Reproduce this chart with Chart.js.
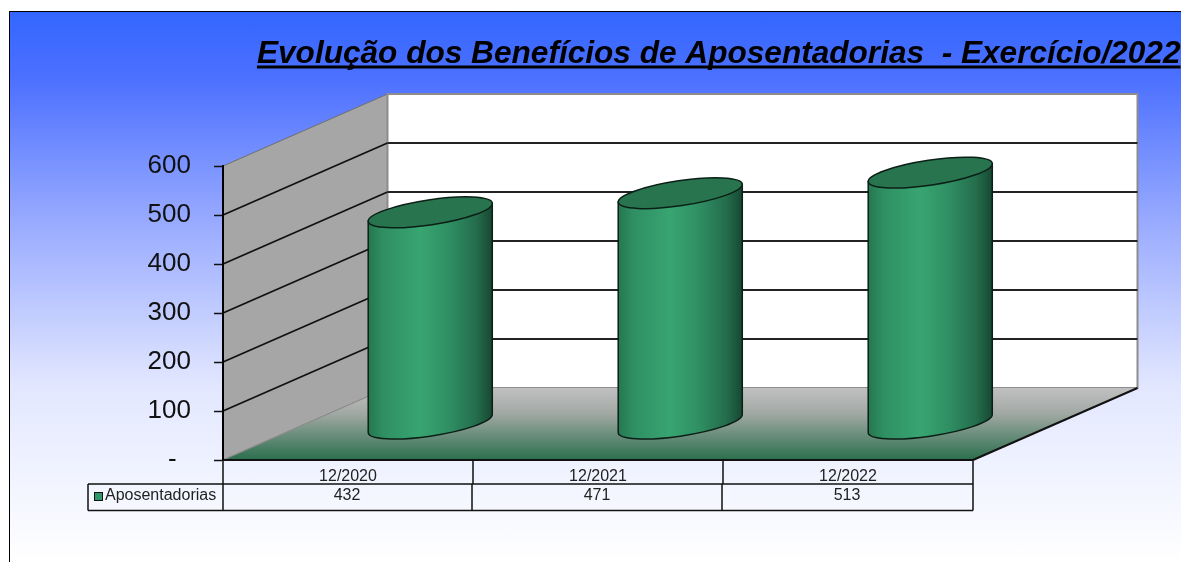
<!DOCTYPE html>
<html>
<head>
<meta charset="utf-8">
<style>
html, body { margin: 0; padding: 0; background: #fff; overflow: hidden; }
#bg {
    position: absolute; left: 9px; top: 11px; width: 1172px; height: 551px;
    box-sizing: border-box; border-left: 1px solid #000; border-top: 1px solid #000;
    background: linear-gradient(to bottom, #3366ff 0%, #4c70ff 12%, #98aaff 38%, #e2e7ff 68%, #ffffff 100%);
}
canvas { position: absolute; left: 0; top: 0; }
</style>
<script src="https://cdn.jsdelivr.net/npm/chart.js@4"></script>
</head>
<body>
<div id="bg"></div>
<canvas id="chart" width="1181" height="562"></canvas>
<script>
const titleText = 'Evolução dos Benefícios de Aposentadorias  - Exercício/2022';
const categories = ['12/2020', '12/2021', '12/2022'];
const seriesName = 'Aposentadorias';
const values = [432, 471, 513];
const yTicks = [0, 100, 200, 300, 400, 500, 600];

// depth of the fake 3d box
const depthX = 164.5, depthY = 72;
const rx = 62.7, ry = 12.5, tilt = -8.5 * Math.PI / 180;
const fontName = '"Liberation Sans", Arial, sans-serif';

// walls and floor go under the axes
const walls = {
    id: 'walls',
    afterLayout(chart) {
        // title runs to the right edge, past the plot
        chart.titleBlock.right = 1180.5;
    },
    beforeDraw(chart) {
        const c = chart.ctx, y = chart.scales.y, x = chart.scales.x;
        const l = x.left, r = x.right, b = y.getPixelForValue(0), t = y.getPixelForValue(600);
        c.save();
        // side wall
        c.fillStyle = '#a6a6a6';
        c.beginPath();
        c.moveTo(l, t); c.lineTo(l + depthX, t - depthY); c.lineTo(l + depthX, b - depthY); c.lineTo(l, b);
        c.closePath(); c.fill();
        c.strokeStyle = '#6f6f6f'; c.lineWidth = 1; c.stroke();
        // back wall
        c.fillStyle = '#fff';
        c.fillRect(l + depthX, t - depthY, r - l, b - t);
        c.strokeStyle = '#8c8c8c'; c.lineWidth = 2;
        c.strokeRect(l + depthX, t - depthY, r - l, b - t);
        // floor
        const g = c.createLinearGradient(0, b - depthY, 0, b);
        g.addColorStop(0, '#c0c0c0');
        g.addColorStop(0.35, '#a2a9a5');
        g.addColorStop(1, '#2a6f4c');
        c.fillStyle = g;
        c.beginPath();
        c.moveTo(l, b); c.lineTo(r, b); c.lineTo(r + depthX, b - depthY); c.lineTo(l + depthX, b - depthY);
        c.closePath(); c.fill();
        c.strokeStyle = '#8c8c8c'; c.lineWidth = 1;
        c.beginPath(); c.moveTo(l, b); c.lineTo(l + depthX, b - depthY); c.stroke();
        c.strokeStyle = '#111'; c.lineWidth = 2;
        c.beginPath(); c.moveTo(r, b); c.lineTo(r + depthX, b - depthY); c.stroke();
        c.beginPath(); c.moveTo(l, b); c.lineTo(r, b); c.stroke();
        // gridlines
        yTicks.slice(1, -1).forEach(v => {
            const p = y.getPixelForValue(v);
            c.strokeStyle = '#111'; c.lineWidth = 1.8;
            c.beginPath(); c.moveTo(l, p); c.lineTo(l + depthX, p - depthY); c.stroke();
            c.strokeStyle = '#222'; c.lineWidth = 2;
            c.beginPath(); c.moveTo(l + depthX, p - depthY); c.lineTo(r + depthX, p - depthY); c.stroke();
        });
        c.restore();
    }
};

// cylinders sit on the library's bar elements
const cylinders = {
    id: 'cylinders',
    afterDatasetsDraw(chart) {
        const c = chart.ctx;
        const t0 = Math.atan2(-ry * Math.sin(tilt), rx * Math.cos(tilt));
        const ex = rx * Math.cos(t0) * Math.cos(tilt) - ry * Math.sin(t0) * Math.sin(tilt);
        const ey = rx * Math.cos(t0) * Math.sin(tilt) + ry * Math.sin(t0) * Math.cos(tilt);
        chart.getDatasetMeta(0).data.forEach(bar => {
            const cx = bar.x + depthX / 2;
            const top = bar.y - depthY / 2, bot = bar.base - depthY / 2;
            const g = c.createLinearGradient(cx - ex, 0, cx + ex, 0);
            g.addColorStop(0, '#25774f');
            g.addColorStop(0.12, '#2f8f63');
            g.addColorStop(0.42, '#38a571');
            g.addColorStop(0.65, '#2f8f63');
            g.addColorStop(0.87, '#246d4c');
            g.addColorStop(1, '#174832');
            c.save();
            c.fillStyle = g; c.strokeStyle = '#0c1f16'; c.lineWidth = 1.5;
            c.beginPath();
            c.moveTo(cx - ex, top - ey);
            c.lineTo(cx - ex, bot - ey);
            c.ellipse(cx, bot, rx, ry, tilt, t0 + Math.PI, t0, true);
            c.lineTo(cx + ex, top + ey);
            c.closePath();
            c.fill(); c.stroke();
            c.fillStyle = '#27744f';
            c.beginPath();
            c.ellipse(cx, top, rx, ry, tilt, 0, Math.PI * 2);
            c.fill(); c.stroke();
            c.restore();
        });
    }
};

// data table under the axis + title underline
const dataTable = {
    id: 'dataTable',
    afterDraw(chart) {
        const c = chart.ctx, x = chart.scales.x;
        const b = x.top, row1 = b + 24, row2 = b + 50.5, w = (x.right - x.left) / categories.length;
        c.save();
        c.strokeStyle = '#111'; c.lineWidth = 1.5;
        c.beginPath();
        c.moveTo(88, row1); c.lineTo(x.right, row1);
        c.moveTo(88, row2); c.lineTo(x.right, row2);
        c.moveTo(88, row1); c.lineTo(88, row2);
        c.moveTo(x.left, b); c.lineTo(x.left, row2);
        c.moveTo(x.right, b); c.lineTo(x.right, row2);
        categories.forEach((n, i) => {
            if (i === 0) return;
            c.moveTo(x.left + w * i, b); c.lineTo(x.left + w * i, row1);
            c.moveTo(x.left + w * i - 1, row1); c.lineTo(x.left + w * i - 1, row2);
        });
        c.stroke();
        c.fillStyle = '#2e9668'; c.strokeStyle = '#111'; c.lineWidth = 1;
        c.fillRect(94.5, 492.5, 8, 8); c.strokeRect(94.5, 492.5, 8, 8);
        c.fillStyle = '#222';
        c.font = '16px ' + fontName;
        c.textBaseline = 'middle';
        c.textAlign = 'left';
        c.fillText(seriesName, 105, row1 + 12);
        c.textAlign = 'center';
        values.forEach((v, i) => c.fillText(String(v), x.getPixelForTick(i) - 1, row1 + 12));
        // underline
        c.fillStyle = '#000';
        c.font = Chart.helpers.toFont(chart.titleBlock.options.font).string;
        const tw = c.measureText(titleText).width;
        c.fillRect(1180.5 - tw, 65.5, tw, 3);
        c.restore();
    }
};

new Chart(document.getElementById('chart').getContext('2d'), {
    type: 'bar',
    data: {
        labels: categories,
        datasets: [{ label: seriesName, data: values, backgroundColor: 'rgba(0,0,0,0)', borderWidth: 0 }]
    },
    options: {
        responsive: false,
        animation: false,
        layout: { padding: { left: 0, right: 208, top: 0, bottom: 0 } },
        plugins: {
            legend: { display: false },
            tooltip: { enabled: false },
            title: {
                display: true,
                text: titleText,
                align: 'end',
                fullSize: true,
                color: '#000',
                font: { family: fontName, size: 31.6, weight: 'bold', style: 'italic', lineHeight: 1.2 },
                padding: { top: 35, bottom: 93.08 }
            }
        },
        scales: {
            x: {
                grid: { display: false, drawTicks: false },
                border: { display: false },
                ticks: { color: '#222', font: { family: fontName, size: 16 }, padding: 7, maxRotation: 0 },
                afterFit: s => { s.height = 102; }
            },
            y: {
                min: 0,
                max: 600,
                afterBuildTicks: s => { s.ticks = yTicks.map(v => ({ value: v })); },
                afterFit: s => { s.width = 223; },
                grid: { drawOnChartArea: false, tickLength: 9, tickColor: '#111', tickWidth: 1.5 },
                border: { color: '#000', width: 2 },
                ticks: {
                    color: '#111',
                    padding: 23,
                    font: { family: fontName, size: 26 },
                    callback: v => v === 0 ? '-  ' : v
                }
            }
        }
    },
    plugins: [walls, cylinders, dataTable]
});
</script>
</body>
</html>
